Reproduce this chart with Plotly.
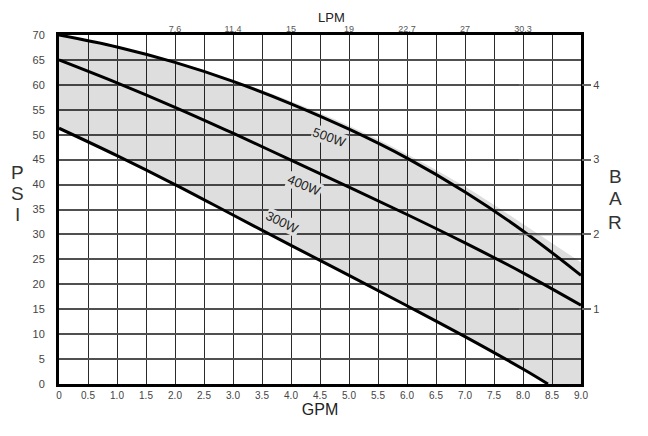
import plotly.graph_objects as go

# ---- data ----
gpm_500 = [0, 1, 2, 3, 4, 5, 6, 7, 8, 9]
psi_500 = [70, 67.6, 64.5, 60.7, 56.2, 51.1, 45.3, 38.5, 30.7, 21.8]

gpm_400 = [0, 1, 2, 3, 4, 5, 6, 7, 8, 9]
psi_400 = [65, 60.4, 55.5, 50.3, 44.9, 39.5, 34.0, 28.3, 22.3, 15.8]

gpm_300 = [0, 1, 2, 3, 4, 5, 6, 7, 8, 8.43]
psi_300 = [51.3, 45.8, 40.0, 33.9, 27.8, 21.8, 15.7, 9.5, 3.0, 0]

shade_top_gpm = [0, 1, 2, 3, 4, 5, 6, 7, 8, 9]
shade_top_psi = [70, 67.7, 64.7, 61.0, 56.7, 51.8, 46.1, 39.6, 32.1, 24.4]
shade_low_gpm = gpm_300 + [9.0]
shade_low_psi = psi_300 + [0]

gpm_ticks = [i * 0.5 for i in range(19)]
gpm_labels = ["0"] + [f"{v:.1f}" for v in gpm_ticks[1:]]
lpm_pos = [2, 3, 4, 5, 6, 7, 8]
lpm_labels = ["7.6", "11.4", "15", "19", "22.7", "27", "30.3"]
bar_ticks = [1, 2, 3, 4]
psi_per_bar = 15.0

curve_labels = ["500W", "400W", "300W"]
label_x = [4.67, 4.24, 3.86]
label_y = [49.4, 39.9, 32.4]
label_angle = [20, 23, 26]

FONT = "Liberation Sans, Arial, sans-serif"

fig = go.Figure()

fig.add_trace(go.Scatter(x=shade_low_gpm, y=shade_low_psi, mode="lines",
                         line=dict(width=0, shape="spline", smoothing=1), hoverinfo="skip", showlegend=False))
fig.add_trace(go.Scatter(x=shade_top_gpm, y=shade_top_psi, mode="lines",
                         line=dict(width=0, shape="spline", smoothing=1), fill="tonexty",
                         fillcolor="rgba(0,0,0,0.13)", hoverinfo="skip", showlegend=False))

for gx, gy in [(gpm_500, psi_500), (gpm_400, psi_400), (gpm_300, psi_300)]:
    fig.add_trace(go.Scatter(x=gx, y=gy, mode="lines",
                             line=dict(color="black", width=3, shape="spline", smoothing=1),
                             showlegend=False, hoverinfo="skip"))

# dummy trace to activate secondary axes
fig.add_trace(go.Scatter(x=[None], y=[None], xaxis="x2", yaxis="y2",
                         mode="lines", showlegend=False, hoverinfo="skip"))

for t, x, y, a in zip(curve_labels, label_x, label_y, label_angle):
    fig.add_annotation(x=x, y=y, text=t, showarrow=False, textangle=a,
                       font=dict(family=FONT, size=13, color="#222"),
                       bgcolor="#dedede", borderpad=0)

# BAR tick lines inside plot
for b in bar_ticks:
    fig.add_shape(type="line", xref="x", yref="y2", x0=7.93, x1=9.0, y0=b, y1=b,
                  line=dict(color="#666", width=1.5), layer="above")

# stacked axis titles
for i, ch in enumerate("PSI"):
    fig.add_annotation(xref="paper", yref="paper", x=(17 - 59) / 522, y=(384 - 172 - 21 * i) / 349,
                       text=ch, showarrow=False,
                       font=dict(family=FONT, size=19, color="#333"), xanchor="center", yanchor="middle")
for i, ch in enumerate("BAR"):
    fig.add_annotation(xref="paper", yref="paper", x=(615 - 59) / 522, y=(384 - 176 - 23 * i) / 349,
                       text=ch, showarrow=False,
                       font=dict(family=FONT, size=19, color="#333"), xanchor="center", yanchor="middle")
fig.add_annotation(xref="paper", yref="paper", x=(331 - 59) / 522, y=(384 - 17) / 349,
                   text="LPM", showarrow=False,
                   font=dict(family=FONT, size=13, color="#222"), xanchor="center", yanchor="middle")

fig.update_layout(
    width=648, height=436,
    margin=dict(l=59, r=67, t=35, b=52),
    paper_bgcolor="white", plot_bgcolor="white",
    font=dict(family=FONT, color="#333"),
    xaxis=dict(range=[0, 9], tickvals=gpm_ticks, ticktext=gpm_labels,
               showgrid=True, gridcolor="#2a2a2a", gridwidth=1.2,
               showline=True, linecolor="black", linewidth=3, mirror=True,
               ticks="", zeroline=False, tickfont=dict(size=10, color="#444"),
               title=dict(text="GPM", font=dict(size=16, color="#222"), standoff=2)),
    yaxis=dict(range=[0, 70], dtick=5, tick0=0,
               showgrid=True, gridcolor="#505050", gridwidth=1.5,
               showline=True, linecolor="black", linewidth=3, mirror=True,
               ticks="", zeroline=False, ticklabelstandoff=9,
               tickfont=dict(size=11, color="#444")),
    xaxis2=dict(overlaying="x", side="top", range=[0, 9], tickvals=lpm_pos,
                ticktext=lpm_labels, showgrid=False, zeroline=False, ticks="",
                tickfont=dict(size=9, color="#555")),
    yaxis2=dict(overlaying="y", side="right", range=[0, 70 / psi_per_bar],
                tickvals=bar_ticks, showgrid=False, zeroline=False,
                ticks="outside", ticklen=9, tickcolor="#666", tickwidth=1.5,
                tickfont=dict(size=11, color="#444")),
)

fig.write_html("out.html")
